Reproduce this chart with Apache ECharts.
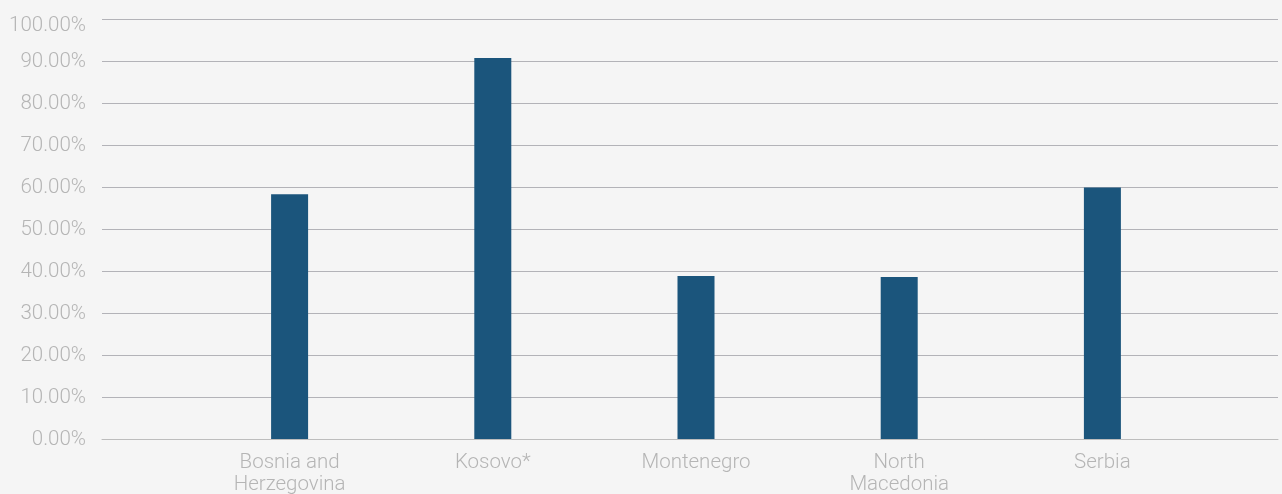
<!DOCTYPE html>
<html>
<head>
<meta charset="utf-8">
<script src="https://cdn.jsdelivr.net/npm/echarts@6/dist/echarts.min.js"></script>
<style>
html,body{margin:0;padding:0;background:#f5f5f5;}
#c{width:1282px;height:494px;}
</style>
</head>
<body>
<div id="c"></div>
<script>
const categories = ['Bosnia and\nHerzegovina', 'Kosovo*', 'Montenegro', 'North\nMacedonia', 'Serbia'];
const values = [58.3, 90.7, 38.8, 38.6, 59.9];
const yMin = 0, yMax = 100, yStep = 10;

const textColor = '#b5b5b5';
const font = 'Roboto';
const chart = echarts.init(document.getElementById('c'), null, {renderer: 'canvas'});
chart.setOption({
  backgroundColor: '#f5f5f5',
  animation: false,
  grid: [
    {left: 102, right: 4, top: 19, bottom: 55, outerBoundsMode: 'none', containLabel: false},
    {left: 188, width: 1016, top: 19, bottom: 55, outerBoundsMode: 'none', containLabel: false}
  ],
  xAxis: [
    {type: 'category', gridIndex: 0, data: [''], axisTick: {show: false}, axisLabel: {show: false},
     axisLine: {lineStyle: {color: '#bdbdbd', width: 1}}},
    {type: 'category', gridIndex: 1, data: categories, axisTick: {show: false}, axisLine: {show: false},
     axisLabel: {color: textColor, fontFamily: font, fontWeight: 300, fontSize: 20.5, lineHeight: 22, margin: 13, interval: 0}}
  ],
  yAxis: [
    {type: 'value', gridIndex: 0, min: yMin, max: yMax, interval: yStep,
     axisLine: {show: false}, axisTick: {show: false},
     splitLine: {lineStyle: {color: '#b3b3b8', width: 1}},
     axisLabel: {color: textColor, fontFamily: font, fontWeight: 300, fontSize: 20.5, margin: 16,
       formatter: v => (v === yMax ? '{top|' : '{n|') + v.toFixed(2) + '%}',
       rich: {
         top: {color: textColor, fontFamily: font, fontWeight: 300, fontSize: 20.5, padding: [14, 0, 0, 0]},
         n: {color: textColor, fontFamily: font, fontWeight: 300, fontSize: 20.5, padding: [2, 0, 0, 0]}
       }}},
    {type: 'value', gridIndex: 1, min: yMin, max: yMax, interval: yStep, show: false}
  ],
  series: [{
    type: 'bar', xAxisIndex: 1, yAxisIndex: 1, data: values, barWidth: 37,
    itemStyle: {color: '#1b557c'}
  }]
});
</script>
</body>
</html>
